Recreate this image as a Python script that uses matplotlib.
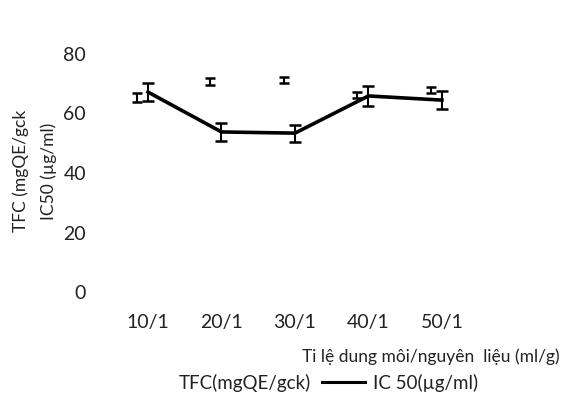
import matplotlib.pyplot as plt
from matplotlib.lines import Line2D
import numpy as np

plt.rcParams["font.family"] = ["Lato", "DejaVu Sans"]

ratios = ["10/1", "20/1", "30/1", "40/1", "50/1"]
tfc = [65.5, 70.9, 71.3, 66.2, 67.9]
tfc_err = [1.5, 1.2, 1.0, 1.0, 1.0]
ic50 = [67.2, 53.8, 53.4, 65.9, 64.5]
ic50_err = [2.9, 2.9, 2.9, 3.4, 3.0]
yticks = [0, 20, 40, 60, 80]

fig = plt.figure(figsize=(5.63, 4.05), dpi=100)
ax = fig.add_axes([100 / 563, 1 - 292 / 405, 400 / 563, 238 / 405])

x = np.arange(len(ratios))

# TFC: only the error bars survive in the original, no visible line
ax.errorbar(x - 0.15, tfc, yerr=tfc_err, fmt="none", ecolor="black",
            elinewidth=1.5, capsize=3.5, capthick=1.8, zorder=3)
# IC50: thick black line with error bars
ax.errorbar(x, ic50, yerr=ic50_err, color="black", linewidth=2.6,
            elinewidth=1.5, capsize=4, capthick=1.8, zorder=4)

ax.set_xlim(-0.653, 4.79)
ax.set_ylim(0, 80)
ax.set_yticks(yticks)
ax.set_xticks(x, ratios)
ax.tick_params(axis="both", length=0, labelsize=14, labelcolor="#222222")
ax.tick_params(axis="y", pad=10)
ax.tick_params(axis="x", pad=16)
for s in ax.spines.values():
    s.set_visible(False)

fig.text(35 / 563, 1 - 171 / 405, "TFC (mgQE/gck\nIC50 (µg/ml)", rotation=90,
         ha="center", va="center", multialignment="center", fontsize=12.5,
         linespacing=1.85, color="#222222")

fig.text(560 / 563, 1 - 357 / 405, "Ti lệ dung môi/nguyên  liệu (ml/g)",
         ha="right", va="center", fontsize=12.5, color="#222222")

handles = [Line2D([], [], color="none"), Line2D([], [], color="black", linewidth=2.2)]
leg = fig.legend(handles, ["TFC(mgQE/gck)", "IC 50(µg/ml)"], loc="center left",
                 bbox_to_anchor=(128 / 563, 1 - 383 / 405), ncol=2, frameon=False,
                 fontsize=13.5, handlelength=2.3, handletextpad=0.4,
                 columnspacing=0.6, borderpad=0, borderaxespad=0)
for t in leg.get_texts():
    t.set_color("#222222")

fig.savefig("out.png", dpi=100)
